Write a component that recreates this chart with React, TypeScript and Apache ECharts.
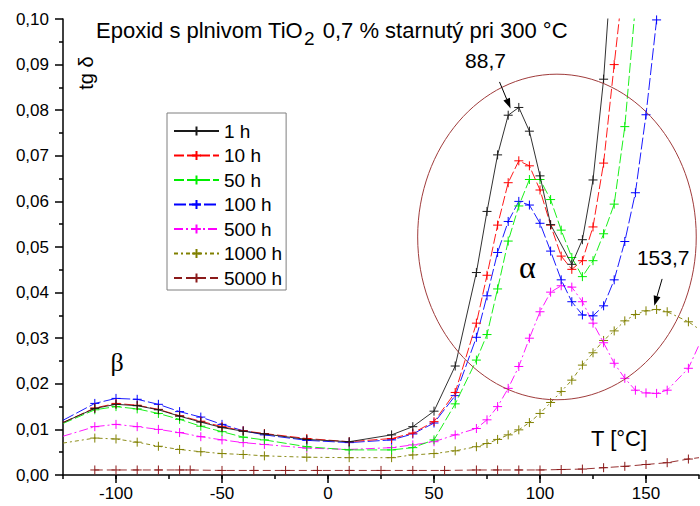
import React, { useEffect, useRef } from 'react';
import * as echarts from 'echarts';

const FONT = "'Liberation Sans', Arial, sans-serif";
const SERIF = "'Liberation Serif', 'DejaVu Serif', serif";

// ---- data (temperature in °C, tg delta) ----
const seriesNames = ['1 h', '10 h', '50 h', '100 h', '500 h', '1000 h', '5000 h'];

const t1h = [-125, -110, -100, -90, -80, -70, -60, -50, -40, -30, -10, 10, 30, 40, 50, 60, 70, 75, 80, 85, 90, 95, 100, 105, 115, 120, 125, 130, 135];
const v1h = [0.0115, 0.0146, 0.0155, 0.0152, 0.0143, 0.0129, 0.0116, 0.0104, 0.0096, 0.009, 0.0078, 0.0073, 0.0088, 0.0106, 0.014, 0.0239, 0.0444, 0.0578, 0.0702, 0.0789, 0.0806, 0.0754, 0.0656, 0.0549, 0.0462, 0.0516, 0.0647, 0.0868, 0.12];

const t10h = [-125, -110, -100, -90, -80, -70, -60, -50, -40, -30, -10, 10, 30, 40, 50, 60, 70, 75, 80, 85, 90, 95, 100, 105, 110, 115, 120, 125, 130, 135, 140];
const v10h = [0.0115, 0.0147, 0.0157, 0.0153, 0.0144, 0.013, 0.0118, 0.0106, 0.0097, 0.0091, 0.008, 0.0073, 0.008, 0.0092, 0.0117, 0.0181, 0.0333, 0.0438, 0.0548, 0.0641, 0.0689, 0.0678, 0.0625, 0.0548, 0.048, 0.0451, 0.047, 0.0544, 0.0684, 0.09, 0.111];

const t50h = [-125, -110, -100, -90, -80, -70, -60, -50, -40, -30, -10, 10, 30, 40, 50, 60, 70, 75, 80, 85, 90, 95, 100, 105, 110, 115, 120, 125, 130, 135, 140, 145];
const v50h = [0.0113, 0.0143, 0.015, 0.0145, 0.0135, 0.0122, 0.0107, 0.0095, 0.0083, 0.0077, 0.0062, 0.0055, 0.0055, 0.006, 0.0077, 0.0156, 0.0252, 0.0308, 0.0408, 0.0513, 0.059, 0.0648, 0.0648, 0.0604, 0.0537, 0.0477, 0.0435, 0.047, 0.0529, 0.0594, 0.0764, 0.103];

const t100h = [-125, -110, -100, -90, -80, -70, -60, -50, -40, -30, -10, 10, 30, 40, 50, 60, 70, 75, 80, 85, 90, 95, 100, 105, 110, 115, 120, 125, 130, 135, 140, 145, 150, 155];
const v100h = [0.012, 0.0157, 0.0168, 0.0166, 0.0155, 0.0139, 0.0127, 0.0111, 0.0097, 0.0088, 0.0076, 0.0071, 0.0077, 0.009, 0.0114, 0.0174, 0.0302, 0.0393, 0.0488, 0.0556, 0.06, 0.0592, 0.0552, 0.0491, 0.0428, 0.038, 0.0351, 0.0349, 0.0371, 0.0428, 0.0512, 0.0619, 0.079, 0.0998];

const t500h = [-125, -110, -100, -90, -80, -70, -60, -50, -40, -30, -10, 10, 30, 40, 50, 60, 70, 75, 80, 85, 90, 95, 100, 105, 110, 115, 120, 125, 130, 135, 140, 145, 150, 155, 160, 170, 175];
const v500h = [0.0085, 0.0106, 0.0111, 0.0106, 0.01, 0.0093, 0.0084, 0.0077, 0.0071, 0.0067, 0.0059, 0.0056, 0.006, 0.0066, 0.0073, 0.0088, 0.0102, 0.0121, 0.015, 0.019, 0.0238, 0.03, 0.0358, 0.0401, 0.0415, 0.0412, 0.038, 0.0333, 0.029, 0.0245, 0.0212, 0.0186, 0.018, 0.0179, 0.0186, 0.0234, 0.0285];

const t1000h = [-125, -110, -100, -90, -80, -70, -60, -50, -40, -30, -10, 10, 30, 40, 50, 60, 70, 75, 80, 85, 90, 95, 100, 105, 110, 115, 120, 125, 130, 135, 140, 145, 150, 155, 160, 170, 175];
const v1000h = [0.007, 0.0081, 0.0079, 0.0072, 0.0063, 0.0056, 0.0051, 0.0047, 0.0045, 0.0042, 0.0039, 0.0038, 0.0038, 0.0044, 0.0047, 0.0053, 0.0062, 0.0069, 0.0078, 0.0088, 0.0099, 0.0115, 0.0135, 0.0159, 0.0183, 0.0208, 0.0241, 0.0268, 0.0295, 0.0316, 0.0338, 0.0352, 0.036, 0.0363, 0.0358, 0.0336, 0.032];

const t5000h = [-110, -100, -90, -80, -70, -65, -50, -35, -20, -5, 10, 25, 40, 55, 70, 80, 90, 100, 110, 120, 130, 140, 150, 160, 170, 175];
const v5000h = [0.0011, 0.0011, 0.0011, 0.0011, 0.0011, 0.0011, 0.001, 0.001, 0.001, 0.001, 0.001, 0.001, 0.001, 0.001, 0.0011, 0.0011, 0.0011, 0.0011, 0.0012, 0.0013, 0.0016, 0.0019, 0.0023, 0.0027, 0.0035, 0.0038];

const xLabelValues = [-100, -50, 0, 50, 100, 150];

const colors = ['#1a1a1a', '#ff0000', '#00ee00', '#0000ff', '#ff00ff', '#808000', '#8b1a1a'];
const dashes: any[] = ['solid', [10, 3], [10, 3], [12, 3], [9, 3, 2, 3], [4, 3, 2, 3], [8, 4]];

const CROSS = 'path://M0,5L10,5M5,0L5,10';

function measure(text: string, font: string) {
  const ctx = document.createElement('canvas').getContext('2d')!;
  ctx.font = font;
  return ctx.measureText(text).width;
}

export default function App() {
  const ref = useRef<HTMLDivElement>(null);

  useEffect(() => {
    const chart = echarts.init(ref.current!, null, { renderer: 'svg' });
    const tSets = [t1h, t10h, t50h, t100h, t500h, t1000h, t5000h];
    const vSets = [v1h, v10h, v50h, v100h, v500h, v1000h, v5000h];

    const series = seriesNames.map((name, k) => ({
      name,
      type: 'line',
      data: tSets[k].map((x, i) =>
        x === -125 || x === 175 ? { value: [x, vSets[k][i]], symbol: 'none' } : [x, vSets[k][i]]
      ),
      symbol: CROSS,
      symbolSize: 9,
      showAllSymbol: true,
      clip: true,
      lineStyle: { color: colors[k], width: 0.9, type: dashes[k] },
      itemStyle: { color: colors[k], borderColor: colors[k], borderWidth: 1 },
      emphasis: { disabled: true },
      z: 10 - k,
    }));

    const axisLineStyle = { color: '#000', width: 1.5 };

    chart.setOption({
      animation: false,
      backgroundColor: '#fff',
      grid: { left: 63, right: 1, top: 19, bottom: 31, containLabel: false, outerBoundsMode: 'none' },
      legend: {
        data: seriesNames,
        orient: 'vertical',
        left: 167,
        top: 113,
        padding: [8, 4, 2, 6],
        itemGap: 4.5,
        itemWidth: 45,
        itemHeight: 11,
        itemTextGap: 7,
        borderColor: '#7f7f7f',
        borderWidth: 1,
        selectedMode: false,
        textStyle: { fontSize: 19, fontFamily: FONT, color: '#000', lineHeight: 20 },
      },
      xAxis: [
        {
          type: 'value',
          min: -125,
          max: 175,
          interval: 25,
          axisLine: { show: true, onZero: false, lineStyle: axisLineStyle },
          axisTick: { show: true, length: 4, lineStyle: axisLineStyle },
          axisLabel: { show: false },
          splitLine: { show: false },
        },
        {
          type: 'value',
          position: 'bottom',
          min: -125,
          max: 175,
          axisLine: { show: false, onZero: false },
          axisTick: { show: true, length: 8, customValues: xLabelValues, lineStyle: axisLineStyle },
          axisLabel: {
            show: true,
            customValues: xLabelValues,
            fontSize: 17,
            fontFamily: FONT,
            color: '#000',
            margin: 10,
          },
          splitLine: { show: false },
        },
      ],
      yAxis: {
        type: 'value',
        min: 0,
        max: 0.1,
        interval: 0.01,
        axisLine: { show: true, onZero: false, lineStyle: axisLineStyle },
        axisTick: { show: true, length: 8, lineStyle: axisLineStyle },
        minorTick: { show: true, splitNumber: 2, length: 4, lineStyle: axisLineStyle },
        splitLine: { show: false },
        axisLabel: {
          formatter: (v: number) => v.toFixed(2).replace('.', ','),
          fontSize: 17,
          fontFamily: FONT,
          color: '#000',
          margin: 14,
        },
      },
      series,
    });

    const px = (x: number, y: number) =>
      chart.convertToPixel({ xAxisIndex: 0, yAxisIndex: 0 }, [x, y]) as number[];

    const txt = (text: string, p: number[], size: number, family = FONT, extra: any = {}) => ({
      type: 'text',
      x: p[0],
      y: p[1],
      z: 100,
      ...extra,
      style: {
        text,
        fontSize: size,
        fontFamily: family,
        fill: '#000',
        textAlign: extra.align || 'center',
        align: extra.align || 'center',
        textVerticalAlign: 'middle',
        verticalAlign: 'middle',
      },
    });

    const arrow = (from: number[], to: number[]) => {
      const dx = to[0] - from[0];
      const dy = to[1] - from[1];
      const len = Math.hypot(dx, dy);
      const ux = dx / len;
      const uy = dy / len;
      const hl = 10;
      const hw = 3.5;
      const bx = to[0] - ux * hl;
      const by = to[1] - uy * hl;
      return [
        {
          type: 'line',
          z: 100,
          shape: { x1: from[0], y1: from[1], x2: bx, y2: by },
          style: { stroke: '#000', lineWidth: 1 },
        },
        {
          type: 'polygon',
          z: 100,
          shape: {
            points: [
              [to[0], to[1]],
              [bx - uy * hw, by + ux * hw],
              [bx + uy * hw, by - ux * hw],
            ],
          },
          style: { fill: '#000' },
        },
      ];
    };

    // ellipse around alpha peak, defined in data units
    const ec = px(108, 0.0522);
    const erx = px(108 + 65.7, 0.0522)[0] - ec[0];
    const ery = ec[1] - px(108, 0.0522 + 0.0357)[1];

    // title pieces
    const tSize = 22;
    const sSize = 19;
    const part1 = 'Epoxid s plnivom TiO';
    const part2 = '2';
    const part3 = ' 0,7 % starnutý pri 300 °C';
    const w1 = measure(part1, `${tSize}px ${FONT}`);
    const w2 = measure(part2, `${sSize}px ${FONT}`);
    const tx = 96;

    chart.setOption({
      graphic: [
        txt(part1, [tx, 30.5], tSize, FONT, { align: 'left' }),
        txt(part2, [tx + w1 + 1, 38.5], sSize, FONT, { align: 'left' }),
        txt(part3, [tx + w1 + w2 + 3, 30.5], tSize, FONT, { align: 'left' }),
        txt('tg δ', [86, 73], 20, FONT, { rotation: Math.PI / 2 }),
        txt('88,7', px(74.3, 0.091), 21),
        ...arrow(px(80.9, 0.0862), px(86.1, 0.0804)),
        txt('153,7', px(158.1, 0.0476), 21),
        ...arrow(px(157.6, 0.043), px(153.9, 0.0371)),
        txt('T [°C]', px(137.3, 0.0081), 22),
        txt('α', px(94, 0.0456), 32, SERIF),
        txt('β', px(-99.5, 0.0246), 26, SERIF),
        {
          type: 'ellipse',
          z: 90,
          shape: { cx: ec[0], cy: ec[1], rx: erx, ry: ery },
          style: { fill: 'none', stroke: '#a03c3c', lineWidth: 1 },
          silent: true,
        },
      ],
    });

    return () => chart.dispose();
  }, []);

  return (
    <div
      ref={ref}
      style={{ position: 'fixed', left: 0, top: 0, width: 700, height: 506, background: '#fff' }}
    />
  );
}
